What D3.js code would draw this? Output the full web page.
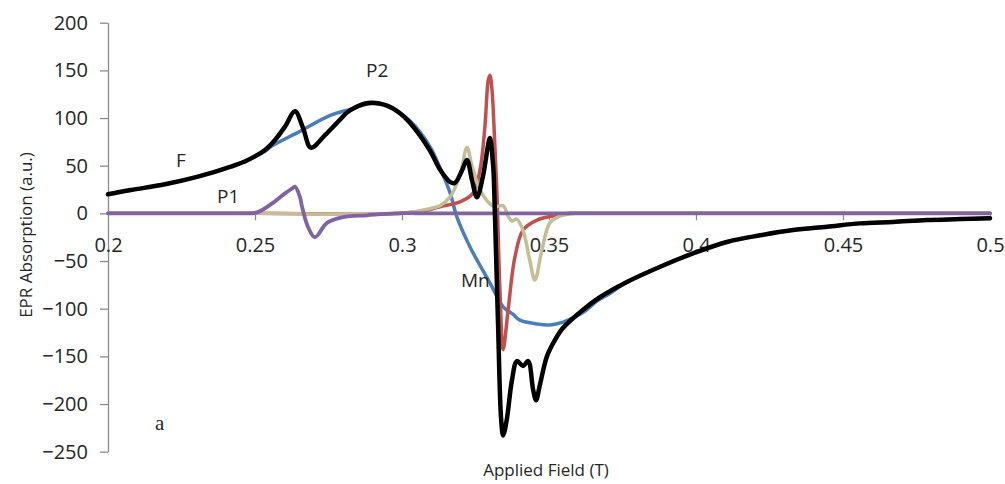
<!DOCTYPE html>
<html>
<head>
    <meta charset="UTF-8">
    <title>EPR Absorption</title>
    <script src="https://d3js.org/d3.v7.min.js"></script>
    <style>
        body { margin: 0; background: #fff; }
        text { font-family: "Open Sans", sans-serif; fill: #262626; }
    </style>
</head>
<body>
<svg width="1005" height="484" id="chart"></svg>
<script>
// ticks
var xTicks = [0.2, 0.25, 0.3, 0.35, 0.4, 0.45, 0.5];
var yTicks = [200, 150, 100, 50, 0, -50, -100, -150, -200, -250];

// series: [field (T), absorption (a.u.)]
var seriesF = [[0.2,20],[0.2078,24.5],[0.2194,30.5],[0.2306,38.5],[0.2418,49],[0.2476,56],[0.2534,66.5],[0.2568,77],
    [0.2602,91],[0.2636,107],[0.2663,90],[0.269,69],[0.2738,82],[0.2782,96],[0.2823,108],[0.2891,116],[0.2949,113],
    [0.2993,105],[0.3027,95],[0.3095,66],[0.3129,46],[0.3163,33],[0.318,32],[0.3204,45],[0.3221,56],[0.3238,35],
    [0.3255,17],[0.3276,40],[0.3293,72],[0.3299,79],[0.331,50],[0.3316,0],[0.3327,-120],[0.3337,-215],[0.3344,-233],
    [0.3357,-215],[0.3374,-175],[0.3391,-155],[0.3412,-160],[0.3429,-155],[0.3446,-185],[0.3456,-196],[0.3469,-180],
    [0.3493,-150],[0.352,-133],[0.3548,-120],[0.3616,-101],[0.3673,-88],[0.3765,-72],[0.3878,-56],[0.399,-42],
    [0.4105,-30],[0.4218,-23],[0.433,-17.5],[0.4446,-14],[0.4558,-10.5],[0.467,-9],[0.4786,-7],[0.4898,-6],[0.5,-5]];
var seriesP2 = [[0.2,20],[0.2078,24.5],[0.2194,30.5],[0.2306,38.5],[0.2418,49],[0.2476,56],[0.2534,65],[0.2554,70],
    [0.2646,85],[0.2758,103],[0.2823,109],[0.2891,115],[0.2949,113],[0.3027,97],[0.3095,70],[0.3129,48],
    [0.3163,22],[0.3187,-4],[0.3231,-35],[0.3299,-73],[0.3344,-98],[0.3378,-106],[0.3401,-112],[0.3459,-116],
    [0.3503,-117],[0.3548,-114],[0.3616,-104],[0.3663,-92],[0.3707,-84],[0.3765,-72],[0.3878,-56],[0.399,-42],
    [0.4105,-30],[0.4218,-23],[0.433,-17.5],[0.4446,-14],[0.4558,-10.5],[0.467,-9],[0.4786,-7],[0.4898,-6],[0.5,-5]];
var seriesP1 = [[0.2,0],[0.22,0],[0.24,0],[0.245,0],[0.2507,1],[0.2561,11],[0.2602,21],[0.2626,26],[0.2636,28],
    [0.2653,17],[0.266,7],[0.268,-14],[0.2704,-25],[0.2745,-10],[0.28,-4],[0.2881,-2],[0.2976,0],[0.31,0],[0.35,0],
    [0.4,0],[0.45,0],[0.5,0]];
var seriesMn = [[0.2,0],[0.25,0],[0.3,0],[0.3095,4],[0.3129,7],[0.3197,12],[0.3241,21],[0.3265,45],[0.3282,91],
    [0.3293,139],[0.3299,145],[0.3306,130],[0.3313,91],[0.3323,21],[0.3333,-80],[0.3344,-143],[0.3361,-101],
    [0.3384,-46],[0.3412,-17.5],[0.3459,-7],[0.3527,-2],[0.357,0],[0.37,0],[0.4,0],[0.45,0],[0.5,0]];
var seriesK = [[0.2,0],[0.25,0],[0.3,0],[0.3095,5],[0.3129,8],[0.3163,17],[0.3197,40],[0.3221,69],[0.3238,50],
    [0.3265,25],[0.3293,12],[0.3316,7],[0.3344,8],[0.3361,-3],[0.3374,-8],[0.339,-6],[0.3412,-18],[0.3435,-50],
    [0.3452,-70],[0.3476,-38],[0.3503,-10],[0.3537,-3],[0.3588,0],[0.37,0],[0.4,0],[0.45,0],[0.5,0]];

var svg = d3.select("#chart");
var x = d3.scaleLinear().domain([0.2, 0.5]).range([108, 990]);
var y = d3.scaleLinear().domain([-250, 200]).range([451.7, 22.7]);

// axes
var yAxis = svg.append("g").attr("transform", "translate(108,0)")
    .call(d3.axisLeft(y).tickValues(yTicks).tickSize(8).tickPadding(12).tickSizeOuter(0));
var xAxis = svg.append("g").attr("transform", "translate(0," + y(0) + ")")
    .call(d3.axisBottom(x).tickValues(xTicks).tickFormat(d3.format("")).tickSize(7).tickPadding(17).tickSizeOuter(0));
[yAxis, xAxis].forEach(function(a) {
    a.selectAll("path, line").attr("stroke", "#8c8c8c").attr("stroke-width", 1.3);
    a.selectAll("text").style("font-size", "20px").attr("fill", "#262626").style("font-family", "Open Sans");
});
xAxis.selectAll(".tick").filter(function(d) { return d === 0.2; }).select("line").remove();

svg.append("text").attr("text-anchor", "middle").attr("transform", "translate(26,235) rotate(-90)")
    .attr("dy", "0.35em").style("font-size", "17px").text("EPR Absorption (a.u.)");
svg.append("text").attr("text-anchor", "middle").attr("x", 546).attr("y", 476)
    .style("font-size", "17px").text("Applied Field (T)");

// lines
var line = d3.line().x(function(d) { return x(d[0]); }).y(function(d) { return y(d[1]); })
    .curve(d3.curveCatmullRom.alpha(0.5));
var series = [
    {data: seriesP2, color: "#4a7ebb", width: 3.5},
    {data: seriesMn, color: "#c0504d", width: 3.5},
    {data: seriesK, color: "#c4bd97", width: 3.5},
    {data: seriesP1, color: "#8064a2", width: 3.8},
    {data: seriesF, color: "#000000", width: 4.5}
];
svg.append("g").selectAll("path").data(series).enter().append("path")
    .attr("d", function(d) { return line(d.data); }).attr("fill", "none")
    .attr("stroke", function(d) { return d.color; }).attr("stroke-width", function(d) { return d.width; })
    .attr("stroke-linejoin", "round").attr("stroke-linecap", "round");

// curve labels
var labels = [["F", 176, 167], ["P1", 217, 203], ["P2", 366, 77], ["Mn", 461, 287]];
svg.append("g").selectAll("text").data(labels).enter().append("text")
    .attr("x", function(d) { return d[1]; }).attr("y", function(d) { return d[2]; })
    .style("font-size", "19px").text(function(d) { return d[0]; });
svg.append("text").attr("x", 155).attr("y", 430).style("font-family", "Liberation Serif")
    .style("font-size", "21px").attr("fill", "#333").text("a");
</script>
</body>
</html>
